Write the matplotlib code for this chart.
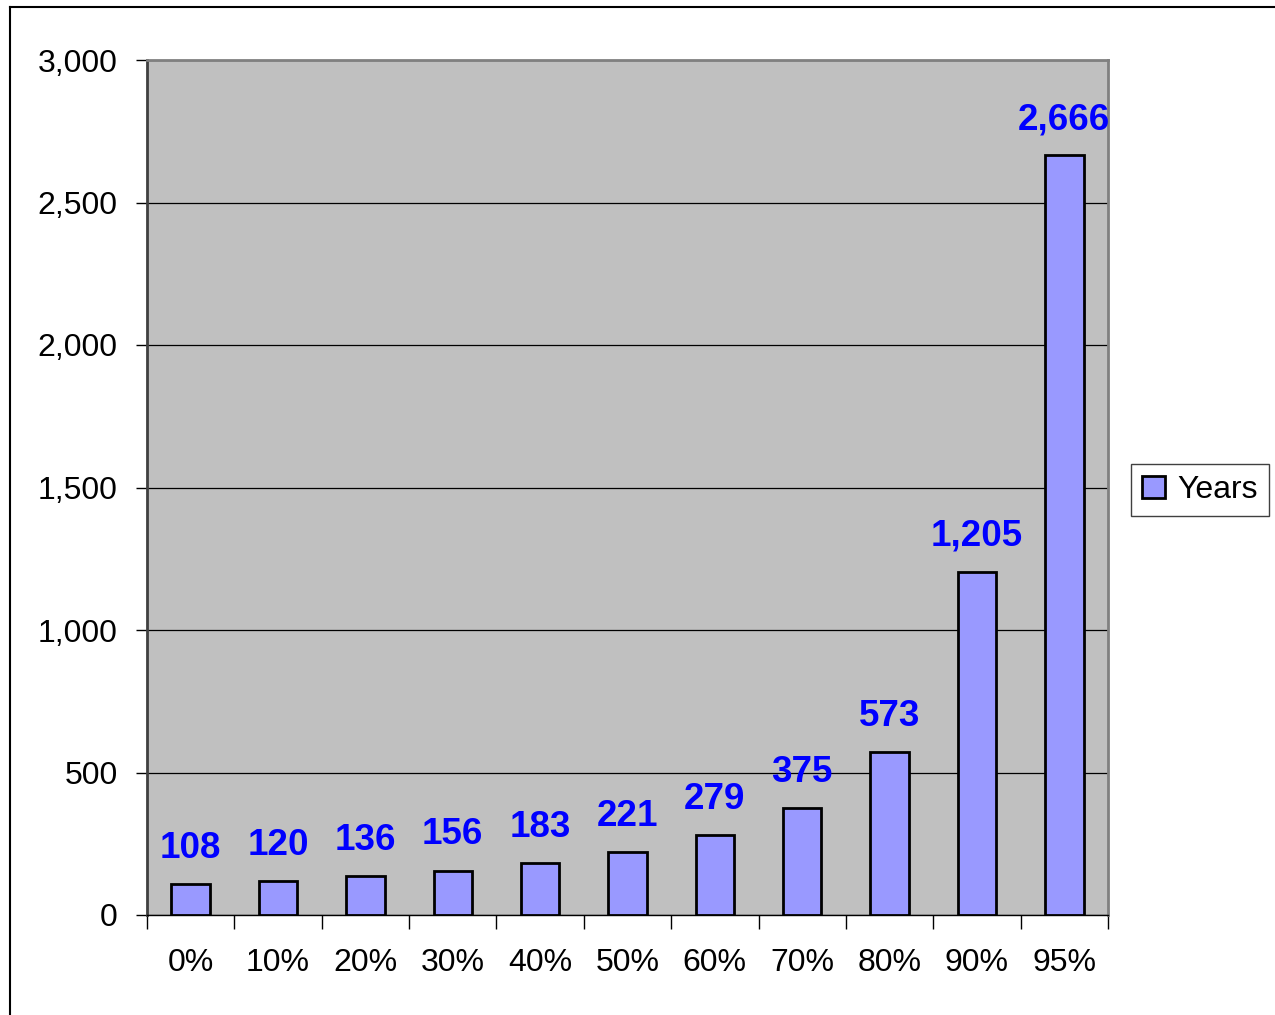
import matplotlib.pyplot as plt
import numpy as np
from matplotlib.lines import Line2D
from matplotlib.patches import Patch
from matplotlib.ticker import FuncFormatter

# values
categories = ['0%', '10%', '20%', '30%', '40%', '50%', '60%', '70%', '80%', '90%', '95%']
years      = [108, 120, 136, 156, 183, 221, 279, 375, 573, 1205, 2666]

plt.rcParams['font.family'] = ['Liberation Sans', 'DejaVu Sans']

fig = plt.figure(figsize=(12.75, 10.15), dpi=100)
ax = fig.add_axes([147 / 1275, 1 - 915 / 1015, (1108 - 147) / 1275, (915 - 60) / 1015])

x = np.arange(len(categories))
ax.set_facecolor('#C0C0C0')
ax.bar(x, years, width=0.44, color='#9999FF', edgecolor='black', linewidth=2, zorder=3)

# value labels above the bars
for xi, v in zip(x, years):
    ax.annotate(f'{v:,}', (xi, v), xytext=(0, 13), textcoords='offset points',
                ha='center', va='bottom', fontsize=26.5, fontweight='bold',
                color='#0000FF', zorder=4)

ax.set_xlim(-0.5, len(categories) - 0.5)
ax.set_ylim(0, 3000)
ax.set_yticks(np.arange(0, 3001, 500))
ax.yaxis.set_major_formatter(FuncFormatter(lambda v, p: f'{int(v):,}'))
ax.yaxis.grid(True, color='black', linewidth=0.9, zorder=1)
ax.set_axisbelow(True)

# category labels at centres, tick marks between categories
ax.set_xticks(x)
ax.set_xticklabels(categories)
ax.set_xticks(np.arange(-0.5, len(categories)), minor=True)
ax.tick_params(axis='x', which='major', length=0, pad=24, labelsize=23)
ax.tick_params(axis='x', which='minor', length=10, width=1, color='black')
ax.tick_params(axis='y', length=8, width=1, pad=13, labelsize=23)

for side in ['top', 'right']:
    ax.spines[side].set_color('#808080')
    ax.spines[side].set_linewidth(2)
ax.spines['left'].set_color('#404040')
ax.spines['left'].set_linewidth(2)
ax.spines['bottom'].set_color('black')
ax.spines['bottom'].set_linewidth(1)

handle = Patch(facecolor='#9999FF', edgecolor='black', linewidth=2)
leg = fig.legend([handle], ['Years'], loc='center', bbox_to_anchor=(1200 / 1275, 1 - 490 / 1015),
                 fontsize=23, fancybox=False, edgecolor='#404040', handlelength=0.7,
                 handleheight=0.7, handletextpad=0.4, borderpad=0.35, framealpha=1)
leg.get_frame().set_linewidth(1)

# chart border along the top and left edges
fig.add_artist(Line2D([10 / 1275, 1], [1 - 7 / 1015, 1 - 7 / 1015], color='black', linewidth=1.5))
fig.add_artist(Line2D([10 / 1275, 10 / 1275], [0, 1 - 7 / 1015], color='black', linewidth=1.5))

fig.savefig('out.png', dpi=100)
